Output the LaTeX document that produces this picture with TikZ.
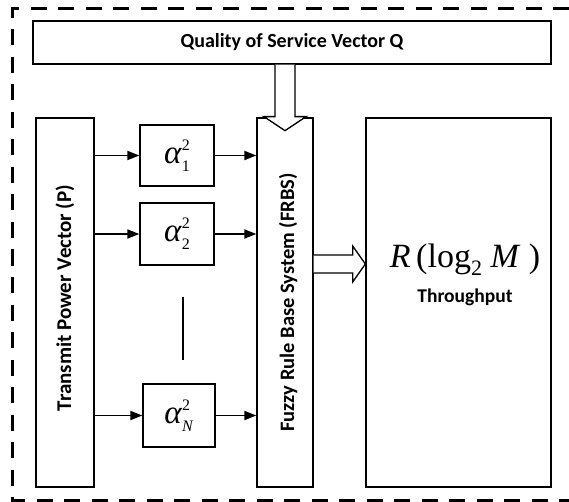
\documentclass[tikz,border=0pt]{standalone}
\usepackage{fontspec}
\setmainfont{Liberation Serif}
\newfontfamily\calfont{Carlito}
\usetikzlibrary{arrows.meta,calc}
\newcommand\asq[1]{{\fontsize{33}{34}\selectfont\textit{α}}\rlap{\raisebox{13pt}{\fontsize{16}{16}\selectfont 2}}\raisebox{-8pt}{\fontsize{16}{16}\selectfont #1}}
\begin{document}
\begin{tikzpicture}[x=1pt,y=-1pt,
  boxst/.style={draw,line width=1.3pt,inner sep=0pt,fill=white},
  lbl/.style={font=\calfont\bfseries},
  arr/.style={line width=1.8pt,-{Triangle[length=12pt,width=9pt]}},
  hollow/.style={draw,line width=1.3pt,fill=white,line join=miter}]
\useasboundingbox (0,0) rectangle (569,502);
\draw[line width=3pt,dash pattern=on 16pt off 11.5pt] (569,9) -- (12,9) -- (12,500) -- (569,500);
% boxes
\node[boxst,minimum width=518pt,minimum height=43pt] (qos) at (292,42.5) {};
\node[lbl,font=\calfont\bfseries\fontsize{20}{22}\selectfont] (qost) at (qos) {Quality of Service Vector Q};
\node[boxst,minimum width=58pt,minimum height=369pt] (tp) at (65,302.5) {};
\node[lbl,rotate=90,font=\calfont\bfseries\fontsize{21}{23}\selectfont] (tpt) at (65,298) {Transmit Power Vector (P)};
\node[boxst,minimum width=56pt,minimum height=369pt] (frbs) at (285,302.5) {};
\node[lbl,rotate=90,font=\calfont\bfseries\fontsize{20.5}{22}\selectfont] (frbst) at (288,302.5) {Fuzzy Rule Base System (FRBS)};
\node[boxst,minimum width=185pt,minimum height=369pt] (thr) at (458.5,302.5) {};
\node[inner sep=0pt,anchor=base] (rt) at (465,267) {\fontsize{34}{36}\selectfont\textit{R}\,(log\raisebox{-8pt}{\fontsize{22}{22}\selectfont 2}\ \textit{M}\ )};
\node[inner sep=0pt,anchor=base,font=\calfont\bfseries\fontsize{19.5}{21}\selectfont] (thrt) at (465,302) {Throughput};
\node[boxst,minimum width=74pt,minimum height=61pt] (a1) at (177,155.5) {\asq{1}};
\node[boxst,minimum width=74pt,minimum height=62pt] (a2) at (177,234) {\asq{2}};
\node[boxst,minimum width=72pt,minimum height=63pt] (aN) at (179,415.5) {\asq{\textit{N}}};
% arrows
\draw[arr] (tp.east |- a1) -- (a1.west);
\draw[arr] (a1.east) -- (frbs.west |- a1);
\draw[arr] (tp.east |- a2) -- (a2.west);
\draw[arr] (a2.east) -- (frbs.west |- a2);
\draw[arr] (tp.east |- aN) -- (aN.west);
\draw[arr] (aN.east) -- (frbs.west |- aN);
\coordinate (vt) at (183,297);
\coordinate (vb) at (183,360);
\draw[line width=1.3pt] (vt) -- (vb);
% hollow arrows
\coordinate (B) at (frbs.north |- qos.south);
\draw[hollow] ($(B)+(-10,0)$) -- ($(B)+(-10,52)$) -- ($(B)+(-21,52)$) -- ($(B)+(0,66)$) -- ($(B)+(21,52)$) -- ($(B)+(10,52)$) -- ($(B)+(10,0)$);
\coordinate (C) at ($(frbs.east)+(0,-38.5)$);
\draw[hollow] ($(C)+(0,-9)$) -- ($(C)+(39,-9)$) -- ($(C)+(39,-18)$) -- (C -| thr.west) -- ($(C)+(39,18)$) -- ($(C)+(39,9)$) -- ($(C)+(0,9)$);
\end{tikzpicture}
\end{document}
